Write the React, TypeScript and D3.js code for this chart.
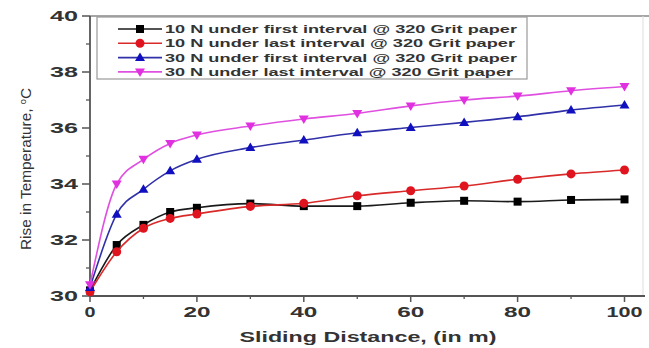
import React from "react";
import * as d3 from "d3";

const distances = [0, 5, 10, 15, 20, 30, 40, 50, 60, 70, 80, 90, 100];
const tenFirst = [30.2, 31.82, 32.54, 33.0, 33.15, 33.3, 33.21, 33.21, 33.33, 33.4, 33.37, 33.43, 33.45];
const tenLast = [30.15, 31.58, 32.42, 32.77, 32.93, 33.2, 33.31, 33.58, 33.76, 33.93, 34.17, 34.36, 34.5];
const thirtyFirst = [30.3, 32.92, 33.81, 34.47, 34.88, 35.3, 35.57, 35.83, 36.02, 36.2, 36.4, 36.64, 36.82];
const thirtyLast = [30.4, 34.0, 34.88, 35.45, 35.75, 36.07, 36.32, 36.52, 36.79, 37.0, 37.14, 37.33, 37.48];

const seriesNames = [
  "10 N under first interval @ 320 Grit paper",
  "10 N under last interval @ 320 Grit paper",
  "30 N under first interval @ 320 Grit paper",
  "30 N under last interval @ 320 Grit paper",
];
const xTicks = [0, 20, 40, 60, 80, 100];
const xMinor = [10, 30, 50, 70, 90];
const yTicks = [30, 32, 34, 36, 38, 40];
const yMinor = [31, 33, 35, 37, 39];

const series = [
  { name: seriesNames[0], values: tenFirst, line: "#1a1a1a", fill: "#000000", marker: "square", len: 352 },
  { name: seriesNames[1], values: tenLast, line: "#d92a2a", fill: "#e0141e", marker: "circle", len: 350 },
  { name: seriesNames[2], values: thirtyFirst, line: "#3030a8", fill: "#1010c0", marker: "up", len: 352 },
  { name: seriesNames[3], values: thirtyLast, line: "#e050e0", fill: "#e030e0", marker: "down", len: 348 },
];

const L = 90, R = 624.5, T = 16, B = 296;
const x = d3.scaleLinear().domain([0, 100]).range([L, R]);
const y = d3.scaleLinear().domain([30, 40]).range([B, T]);

function Marker({ type, cx, cy, color }: { type: string; cx: number; cy: number; color: string }) {
  if (type === "square") return <rect x={cx - 4} y={cy - 4} width={8} height={8} fill={color} />;
  if (type === "circle") return <circle cx={cx} cy={cy} r={4.5} fill={color} />;
  if (type === "up") return <path d={`M${cx},${cy - 5}L${cx + 5},${cy + 3.5}L${cx - 5},${cy + 3.5}Z`} fill={color} />;
  return <path d={`M${cx},${cy + 5}L${cx + 5},${cy - 3.5}L${cx - 5},${cy - 3.5}Z`} fill={color} />;
}

export default function App() {
  const line = d3
    .line<number>()
    .x((_, i) => x(distances[i]))
    .y((d) => y(d))
    .curve(d3.curveMonotoneX);
  const axisColor = "#555";
  return (
    <svg width={649} height={348} style={{ position: "absolute", left: 0, top: 0, background: "#fff" }}
      fontFamily="'Liberation Sans', Arial, sans-serif">
      <rect x={0} y={0} width={649} height={348} fill="#fff" />
      {/* frame */}
      <line x1={L} x2={649} y1={T} y2={T} stroke="#888" strokeWidth={1.5} />
      <line x1={643} x2={643} y1={T} y2={B} stroke="#ddd" strokeWidth={1} />
      <line x1={L} x2={645} y1={B} y2={B} stroke={axisColor} strokeWidth={1.8} />
      <line x1={L} x2={L} y1={T} y2={B} stroke={axisColor} strokeWidth={1.8} />
      {/* y ticks */}
      {yTicks.map((t) => (
        <g key={"y" + t}>
          <line x1={L - 8} x2={L} y1={y(t)} y2={y(t)} stroke={axisColor} strokeWidth={1.5} />
          <text x={78} y={y(t)} dy="0.36em" textAnchor="end" fontSize={14} fontWeight="bold" fill="#333"
            textLength={28} lengthAdjust="spacingAndGlyphs">{t}</text>
        </g>
      ))}
      {yMinor.map((t) => (
        <line key={"ym" + t} x1={L - 4} x2={L} y1={y(t)} y2={y(t)} stroke={axisColor} strokeWidth={1.3} />
      ))}
      {/* x ticks */}
      {xTicks.map((t) => (
        <g key={"x" + t}>
          <line x1={x(t)} x2={x(t)} y1={B} y2={B + 6} stroke={axisColor} strokeWidth={1.5} />
          <text x={x(t)} y={312} dy="0.36em" textAnchor="middle" fontSize={14} fontWeight="bold" fill="#333"
            textLength={String(t).length === 1 ? 11 : String(t).length === 2 ? 27 : 36} lengthAdjust="spacingAndGlyphs">{t}</text>
        </g>
      ))}
      {xMinor.map((t) => (
        <line key={"xm" + t} x1={x(t)} x2={x(t)} y1={B} y2={B + 3} stroke={axisColor} strokeWidth={1.3} />
      ))}
      {/* axis titles */}
      <text x={368} y={342} textAnchor="middle" fontSize={14.5} fontWeight="bold" fill="#333"
        textLength={257} lengthAdjust="spacingAndGlyphs">Sliding Distance, (in m)</text>
      <text transform="translate(31,169) rotate(-90)" textAnchor="middle" fontSize={15} fill="#333"
        textLength={162} lengthAdjust="spacingAndGlyphs">
        Rise in Temperature, <tspan dy={-5} fontSize={9}>o</tspan><tspan dy={5}>C</tspan>
      </text>
      {/* series */}
      {series.map((s) => (
        <g key={s.name}>
          <path d={line(s.values) || ""} fill="none" stroke={s.line} strokeWidth={1.6} />
          {s.values.map((v, i) => (
            <Marker key={i} type={s.marker} cx={x(distances[i])} cy={y(v)} color={s.fill} />
          ))}
        </g>
      ))}
      {/* legend */}
      <rect x={97} y={17} width={430} height={62} fill="#fff" stroke="#999" strokeWidth={1.2} />
      {series.map((s, i) => {
        const ly = 29 + i * 14.3;
        return (
          <g key={"lg" + i}>
            <line x1={118} x2={162} y1={ly} y2={ly} stroke={s.line} strokeWidth={1.6} />
            <Marker type={s.marker} cx={140} cy={ly} color={s.fill} />
            <text x={165} y={ly} dy="0.36em" fontSize={11.5} fontWeight="bold" fill="#333"
              textLength={s.len} lengthAdjust="spacingAndGlyphs">{s.name}</text>
          </g>
        );
      })}
    </svg>
  );
}
